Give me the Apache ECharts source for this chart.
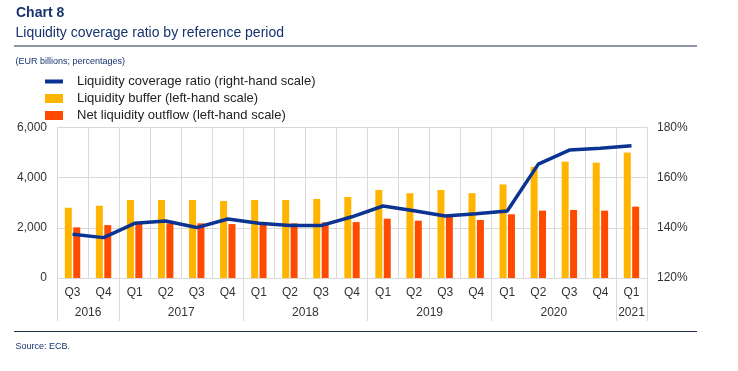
<!DOCTYPE html>
<html>
<head>
<meta charset="utf-8">
<script src="https://cdn.jsdelivr.net/npm/echarts@6/dist/echarts.min.js"></script>
<style>
html,body{margin:0;padding:0;background:#fff;}
#chart{width:738px;height:371px;}
</style>
</head>
<body>
<div id="chart"></div>
<script>
// ---- data ----
const quarters = ['Q3','Q4','Q1','Q2','Q3','Q4','Q1','Q2','Q3','Q4','Q1','Q2','Q3','Q4','Q1','Q2','Q3','Q4','Q1'];
const years = ['2016','2017','2018','2019','2020','2021'];
const quartersPerYear = [2,4,4,4,4,1];
const liquidityBuffer = [2800,2880,3110,3110,3110,3070,3110,3110,3150,3230,3510,3380,3510,3380,3730,4430,4640,4600,5000];
const netLiquidityOutflow = [2020,2110,2180,2180,2180,2150,2160,2180,2220,2230,2365,2285,2460,2310,2540,2685,2710,2685,2845];
const lcr = [137.4,136.1,141.8,142.7,140.1,143.5,141.8,140.9,140.9,144.4,148.7,146.8,144.7,145.6,146.7,165.4,171.0,171.7,172.7];
const leftTicks = [0,2000,4000,6000];
const rightTicks = [120,140,160,180];

const seriesNames = [
  'Liquidity coverage ratio (right-hand scale)',
  'Liquidity buffer (left-hand scale)',
  'Net liquidity outflow (left-hand scale)'
];

// half-quarter point axis for year labels and separators
const nHalf = quarters.length * 2 + 1;
const halfData = [];
for (let i = 0; i < nHalf; i++) halfData.push('p' + i);
const boundarySet = new Set();
const centerSet = new Set();
const yearLabelMap = {};
let cum = 0;
boundarySet.add(0);
quartersPerYear.forEach((n, k) => {
  const c = cum * 2 + n;
  centerSet.add(c);
  yearLabelMap['p' + c] = years[k];
  cum += n;
  boundarySet.add(cum * 2);
});

const FONT = '"Liberation Sans", Arial, sans-serif';
const NAVY = '#17336e';
const TXT = '#333333';
const GRID = '#d9d9d9';
const LINE_BLUE = '#0b3391';

const chart = echarts.init(document.getElementById('chart'));
chart.setOption({
  animation: false,
  backgroundColor: '#ffffff',
  textStyle: { fontFamily: FONT },
  title: [
    { text: 'Chart 8', left: 16, top: 6, padding: 0, textStyle: { fontFamily: FONT, fontSize: 14, fontWeight: 'bold', color: NAVY } },
    { text: 'Liquidity coverage ratio by reference period', left: 15.5, top: 26, padding: 0, textStyle: { fontFamily: FONT, fontSize: 14, fontWeight: 'normal', color: NAVY } },
    { text: '(EUR billions; percentages)', left: 15.5, top: 57, padding: 0, textStyle: { fontFamily: FONT, fontSize: 9, fontWeight: 'normal', color: NAVY } },
    { text: 'Source: ECB.', left: 15.5, top: 342, padding: 0, textStyle: { fontFamily: FONT, fontSize: 9, fontWeight: 'normal', color: NAVY } }
  ],
  graphic: [
    { type: 'line', shape: { x1: 14, y1: 46, x2: 697, y2: 46 }, style: { stroke: '#1d2f4f', lineWidth: 1.2 } },
    { type: 'line', shape: { x1: 14, y1: 331.5, x2: 697, y2: 331.5 }, style: { stroke: '#1d2f4f', lineWidth: 1.2 } }
  ],
  legend: {
    orient: 'vertical',
    left: 45,
    top: 75,
    padding: 0,
    itemWidth: 18,
    itemHeight: 9,
    itemGap: 4,
    textStyle: { fontFamily: FONT, fontSize: 13, color: '#222', padding: [0, 0, 0, 9] },
    data: [
      { name: seriesNames[0], icon: 'path://M0,0h18v4h-18z', itemStyle: { color: LINE_BLUE } },
      { name: seriesNames[1], icon: 'rect' },
      { name: seriesNames[2], icon: 'rect' }
    ]
  },
  grid: { left: 57, right: 91, top: 127.5, bottom: 93, containLabel: false },
  xAxis: [
    {
      type: 'category',
      data: quarters,
      boundaryGap: true,
      axisLine: { show: false },
      axisTick: { show: false },
      splitLine: { show: true, lineStyle: { color: GRID, width: 1 } },
      axisLabel: { fontFamily: FONT, fontSize: 12, color: TXT, margin: 9, interval: 0 }
    },
    {
      type: 'category',
      data: halfData,
      boundaryGap: false,
      position: 'bottom',
      axisLine: { show: false },
      axisTick: {
        show: true,
        length: 43,
        interval: (idx) => boundarySet.has(idx),
        lineStyle: { color: GRID, width: 1 }
      },
      splitLine: { show: false },
      axisLabel: {
        fontFamily: FONT, fontSize: 12, color: TXT, margin: 29,
        interval: (idx) => centerSet.has(idx),
        formatter: (v) => yearLabelMap[v] || ''
      }
    }
  ],
  yAxis: [
    {
      type: 'value',
      min: 0, max: 6000, interval: 2000,
      position: 'left',
      axisLine: { show: false },
      axisTick: { show: false },
      splitLine: { show: true, lineStyle: { color: GRID, width: 1 } },
      axisLabel: {
        fontFamily: FONT, fontSize: 12, color: TXT, margin: 10,
        formatter: (v) => leftTicks.includes(v) ? v.toLocaleString('en-US') : ''
      }
    },
    {
      type: 'value',
      min: 120, max: 180, interval: 20,
      position: 'right',
      axisLine: { show: false },
      axisTick: { show: false },
      splitLine: { show: false },
      axisLabel: {
        fontFamily: FONT, fontSize: 12, color: TXT, margin: 10,
        formatter: (v) => rightTicks.includes(v) ? v + '%' : ''
      }
    }
  ],
  series: [
    {
      name: seriesNames[1],
      type: 'bar',
      xAxisIndex: 0, yAxisIndex: 0,
      data: liquidityBuffer,
      barWidth: 7,
      barGap: '20%',
      itemStyle: { color: '#FFB400' }
    },
    {
      name: seriesNames[2],
      type: 'bar',
      xAxisIndex: 0, yAxisIndex: 0,
      data: netLiquidityOutflow,
      barWidth: 7,
      barGap: '20%',
      itemStyle: { color: '#FF4B00' }
    },
    {
      name: seriesNames[0],
      type: 'line',
      xAxisIndex: 0, yAxisIndex: 1,
      data: lcr,
      symbol: 'none',
      showSymbol: false,
      z: 5,
      lineStyle: { color: LINE_BLUE, width: 3.5 },
      itemStyle: { color: LINE_BLUE }
    }
  ]
});
</script>
</body>
</html>
